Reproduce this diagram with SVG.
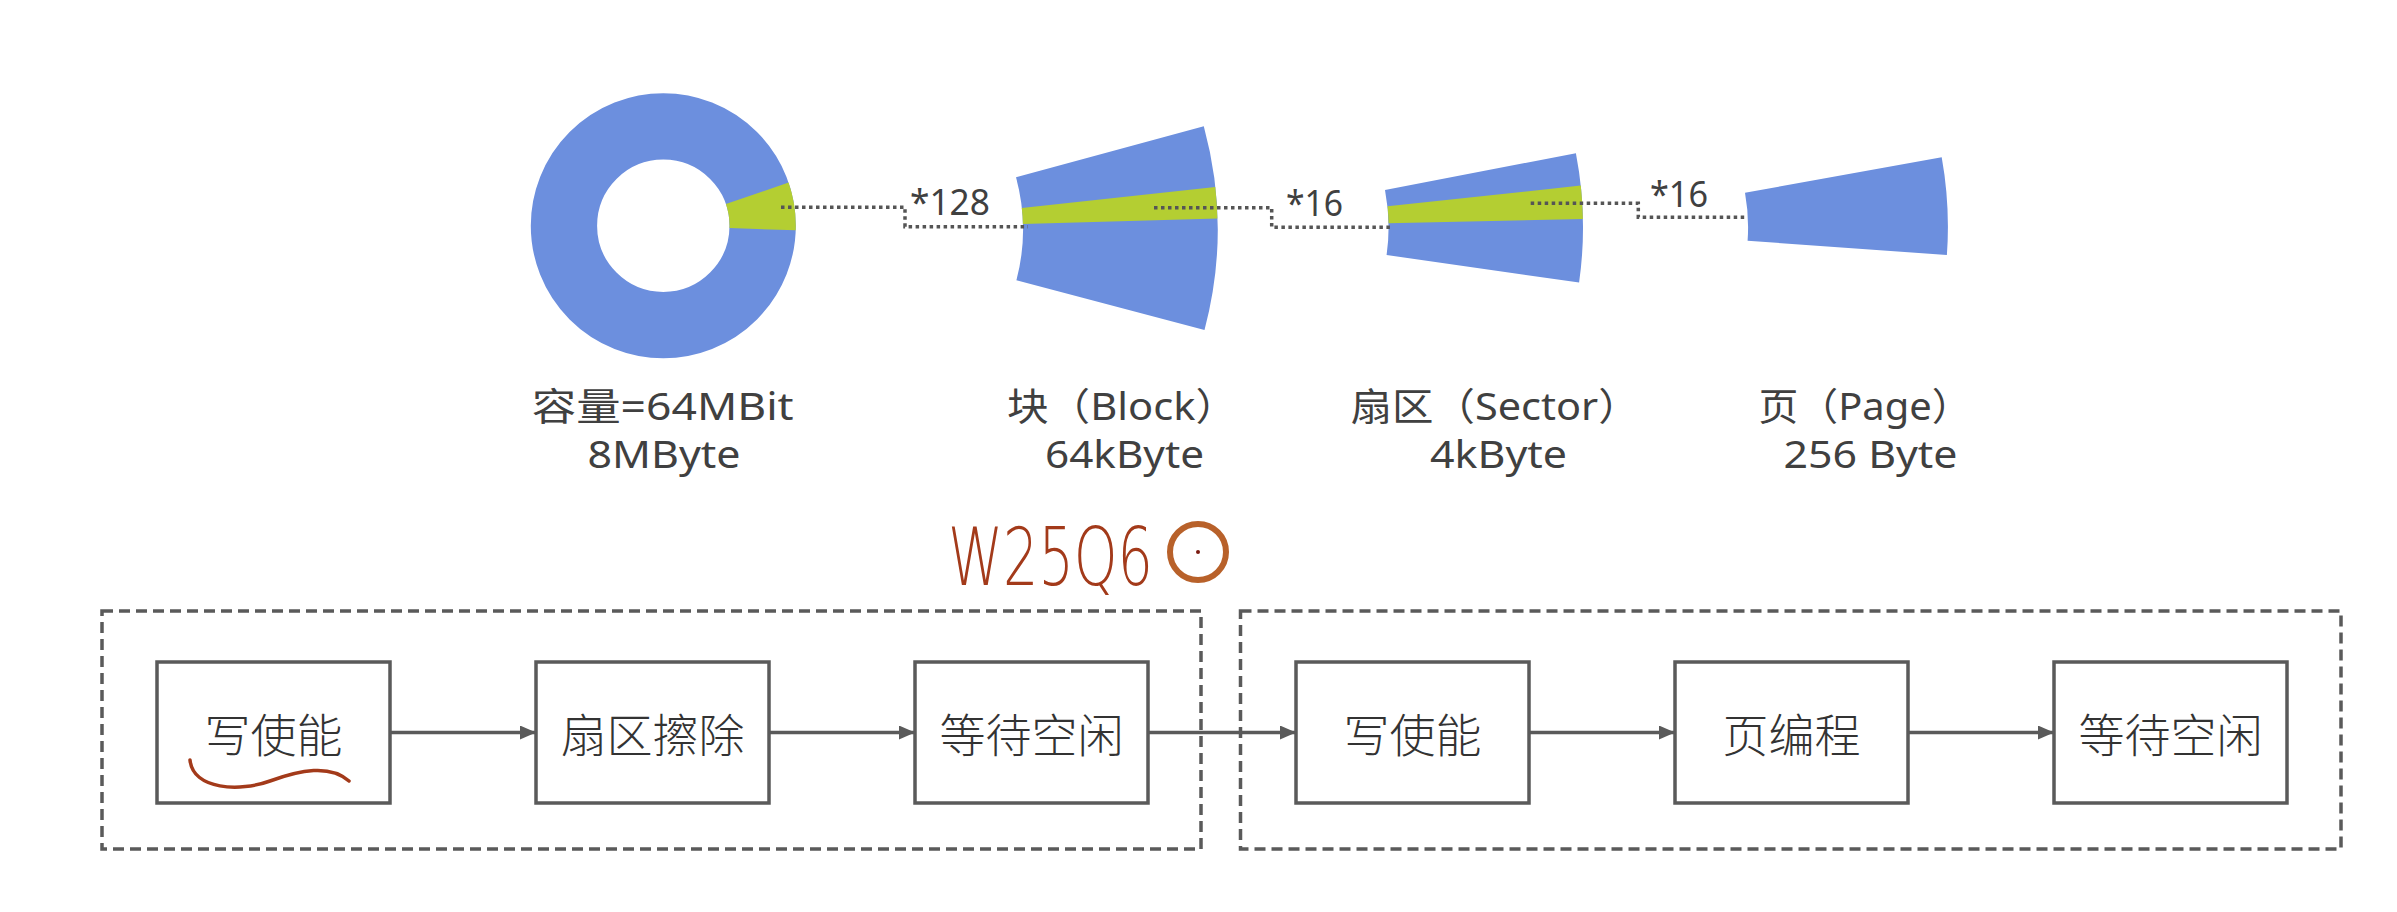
<svg xmlns="http://www.w3.org/2000/svg" width="2397" height="912" viewBox="0 0 2397 912">
<style>
.blue{fill:#6c8fde}
.green{fill:#b4ce32}
.dot{fill:none;stroke:#555;stroke-width:3.5;stroke-dasharray:3.5 3.5}
.lbl{font-family:"Noto Sans","Noto Sans CJK SC",sans-serif;font-size:38px;fill:#404040}
.mul{font-family:"Noto Sans","Noto Sans CJK SC",sans-serif;font-size:37px;fill:#404040}
.box{fill:#fff;stroke:#5a5a5a;stroke-width:3.5}
.grp{fill:none;stroke:#5a5a5a;stroke-width:3.5;stroke-dasharray:11 6}
.bt{font-family:"Noto Sans CJK SC","Noto Sans",sans-serif;font-size:46px;font-weight:300;fill:#333;text-anchor:middle}
.edge{fill:none;stroke:#5a5a5a;stroke-width:3.5}
.ink{fill:none;stroke:#a33a1a;stroke-width:3.5;stroke-linecap:round}
</style>
<defs>
<marker id="arr" markerUnits="userSpaceOnUse" markerWidth="16" markerHeight="14" refX="16" refY="7" orient="auto">
<path d="M0,0 L16,7 L0,14 Z" fill="#5a5a5a"/>
</marker>
</defs>
<rect width="2397" height="912" fill="#fff"/>

<g id="capacity">
<circle cx="663.3" cy="225.7" r="99.35" fill="none" stroke="#6c8fde" stroke-width="66.3"/>
<path class="green" d="M725.9,204.1 L788.6,182.6 A132.5,132.5 0 0 1 795.7,230.3 L729.5,228.0 A66.2,66.2 0 0 0 725.9,204.1 Z"/>
<text class="lbl" x="531.7" y="420" textLength="262" lengthAdjust="spacingAndGlyphs">容量=64MBit</text>
<text class="lbl" x="587.5" y="468" textLength="153" lengthAdjust="spacingAndGlyphs">8MByte</text>
</g>

<g id="block">
<path class="blue" d="M1016.0,177.3 L1203.8,126.3 A393.6,393.6 0 0 1 1204.5,330.0 L1016.4,280.3 A199,199 0 0 0 1016.0,177.3 Z"/>
<path class="green" d="M1021.8,208.0 L1215.3,187.0 A393.6,393.6 0 0 1 1217.4,218.5 L1022.9,223.9 A199,199 0 0 0 1021.8,208.0 Z"/>
<text class="lbl" x="1007" y="420" textLength="230" lengthAdjust="spacingAndGlyphs">块（Block）</text>
<text class="lbl" x="1045" y="468" textLength="159" lengthAdjust="spacingAndGlyphs">64kByte</text>
</g>

<g id="sector">
<path class="blue" d="M1385.0,189.9 L1575.9,153.2 A392,392 0 0 1 1579.1,282.5 L1386.6,255.1 A197.6,197.6 0 0 0 1385.0,189.9 Z"/>
<path class="green" d="M1387.5,206.3 L1580.8,185.6 A392,392 0 0 1 1582.9,219.1 L1388.6,223.2 A197.6,197.6 0 0 0 1387.5,206.3 Z"/>
<text class="lbl" x="1350.6" y="420" textLength="289" lengthAdjust="spacingAndGlyphs">扇区（Sector）</text>
<text class="lbl" x="1430" y="468" textLength="137" lengthAdjust="spacingAndGlyphs">4kByte</text>
</g>

<g id="page">
<path class="blue" d="M1745.0,192.7 L1941.7,157.3 A393.4,393.4 0 0 1 1946.9,255.1 L1747.6,240.8 A193.6,193.6 0 0 0 1745.0,192.7 Z"/>
<text class="lbl" x="1758.5" y="420" textLength="213" lengthAdjust="spacingAndGlyphs">页（Page）</text>
<text class="lbl" x="1783.5" y="468" textLength="174" lengthAdjust="spacingAndGlyphs">256 Byte</text>
</g>

<g id="multipliers">
<path class="dot" d="M781,207.3 H905 V226.7 H1028"/>
<path class="dot" d="M1154,207.7 H1271.7 V227.3 H1391.7"/>
<path class="dot" d="M1530.7,203.3 H1638.3 V217.3 H1746"/>
<text class="mul" x="910" y="215" textLength="80" lengthAdjust="spacingAndGlyphs">*128</text>
<text class="mul" x="1286" y="216" textLength="57" lengthAdjust="spacingAndGlyphs">*16</text>
<text class="mul" x="1650" y="207.3" textLength="58" lengthAdjust="spacingAndGlyphs">*16</text>
</g>

<g id="group-erase">
<rect class="grp" x="102" y="611" width="1099" height="238"/>
</g>
<g id="group-program">
<rect class="grp" x="1240.5" y="611" width="1100.5" height="238"/>
</g>

<g id="connectors">
<line class="edge" x1="390" y1="732.5" x2="536" y2="732.5" marker-end="url(#arr)"/>
<line class="edge" x1="769" y1="732.5" x2="915" y2="732.5" marker-end="url(#arr)"/>
<line class="edge" x1="1148" y1="732.5" x2="1296" y2="732.5" marker-end="url(#arr)"/>
<line class="edge" x1="1529" y1="732.5" x2="1675" y2="732.5" marker-end="url(#arr)"/>
<line class="edge" x1="1908" y1="732.5" x2="2054" y2="732.5" marker-end="url(#arr)"/>
</g>

<g id="n1"><rect class="box" x="157" y="662" width="233" height="141"/><text class="bt" x="273.5" y="752">写使能</text></g>
<g id="n2"><rect class="box" x="536" y="662" width="233" height="141"/><text class="bt" x="652.5" y="752">扇区擦除</text></g>
<g id="n3"><rect class="box" x="915" y="662" width="233" height="141"/><text class="bt" x="1031.5" y="752">等待空闲</text></g>
<g id="n4"><rect class="box" x="1296" y="662" width="233" height="141"/><text class="bt" x="1412.5" y="752">写使能</text></g>
<g id="n5"><rect class="box" x="1675" y="662" width="233" height="141"/><text class="bt" x="1791.5" y="752">页编程</text></g>
<g id="n6"><rect class="box" x="2054" y="662" width="233" height="141"/><text class="bt" x="2170.5" y="752">等待空闲</text></g>

<g id="annotation">
<text x="948" y="585" font-family="'DejaVu Sans',sans-serif" font-weight="200" font-size="80" fill="#a33a1a" textLength="205" lengthAdjust="spacingAndGlyphs">W25Q6</text>
<circle cx="1198" cy="552" r="28" fill="none" stroke="#b8612a" stroke-width="6"/>
<circle cx="1198" cy="552" r="2" fill="#7a1a10"/>
<path class="ink" d="M190,760 C193,790 240,792 270,781 C300,770 330,764 349,781"/>
</g>
</svg>
